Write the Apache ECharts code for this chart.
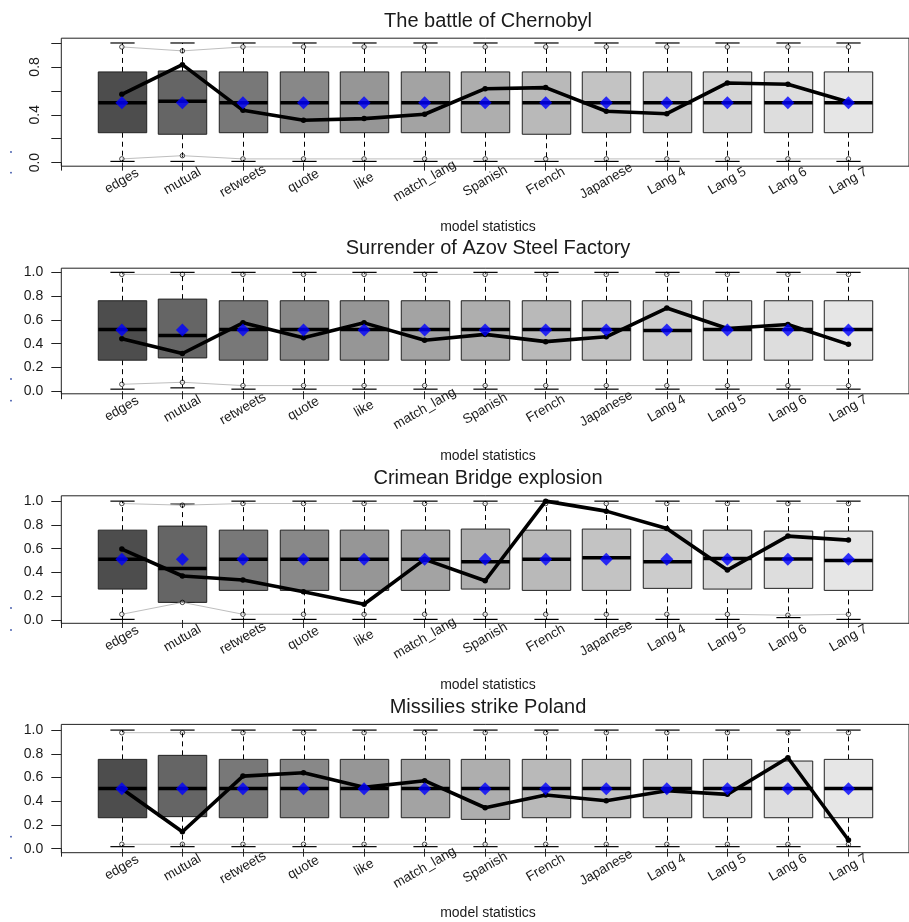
<!DOCTYPE html>
<html>
<head>
<meta charset="utf-8">
<title>Goodness of fit: model statistics</title>
<script src="https://cdn.jsdelivr.net/npm/echarts@6/dist/echarts.min.js"></script>
<style>
  html, body { margin: 0; padding: 0; background: #fff; }
  #chart { width: 909px; height: 922px; }
</style>
</head>
<body>
<div id="chart"></div>
<script>
// Model statistics shown on every panel
const categories = ['edges', 'mutual', 'retweets', 'quote', 'like', 'match_lang',
  'Spanish', 'French', 'Japanese', 'Lang 4', 'Lang 5', 'Lang 6', 'Lang 7'];
const yTicks = [0, 0.2, 0.4, 0.6, 0.8, 1.0];

// The battle of Chernobyl
const chernobylLow = [0.01, 0.01, 0.01, 0.01, 0.01, 0.01, 0.01, 0.01, 0.01, 0.01, 0.01, 0.01, 0.01];
const chernobylQ1 = [0.25, 0.237, 0.25, 0.25, 0.25, 0.25, 0.25, 0.237, 0.25, 0.25, 0.25, 0.25, 0.25];
const chernobylMedian = [0.5, 0.513, 0.5, 0.5, 0.5, 0.5, 0.5, 0.5, 0.5, 0.5, 0.5, 0.5, 0.5];
const chernobylQ3 = [0.758, 0.766, 0.758, 0.758, 0.758, 0.758, 0.758, 0.758, 0.758, 0.758, 0.758, 0.758, 0.758];
const chernobylHigh = [1, 1, 1, 1, 1, 1, 1, 1, 1, 1, 1, 1, 1];
const chernobylBoundLow = [0.031, 0.058, 0.031, 0.031, 0.031, 0.031, 0.031, 0.031, 0.031, 0.031, 0.031, 0.031, 0.031];
const chernobylBoundHigh = [0.967, 0.934, 0.967, 0.967, 0.967, 0.967, 0.967, 0.967, 0.967, 0.967, 0.967, 0.967, 0.967];
const chernobylObserved = [0.571, 0.819, 0.437, 0.354, 0.368, 0.404, 0.618, 0.627, 0.429, 0.409, 0.666, 0.655, 0.507];
const chernobylMean = [0.5, 0.5, 0.5, 0.5, 0.5, 0.5, 0.5, 0.5, 0.5, 0.5, 0.5, 0.5, 0.5];

// Surrender of Azov Steel Factory
const azovLow = [0.017, 0.028, 0.017, 0.017, 0.017, 0.017, 0.017, 0.017, 0.017, 0.017, 0.017, 0.017, 0.017];
const azovQ1 = [0.261, 0.28, 0.261, 0.261, 0.261, 0.261, 0.261, 0.261, 0.261, 0.261, 0.261, 0.261, 0.261];
const azovMedian = [0.519, 0.469, 0.519, 0.519, 0.519, 0.519, 0.519, 0.519, 0.519, 0.511, 0.519, 0.519, 0.519];
const azovQ3 = [0.761, 0.775, 0.761, 0.761, 0.761, 0.761, 0.761, 0.761, 0.761, 0.761, 0.761, 0.761, 0.761];
const azovHigh = [1, 1, 1, 1, 1, 1, 1, 1, 1, 1, 1, 1, 1];
const azovBoundLow = [0.058, 0.075, 0.047, 0.047, 0.047, 0.047, 0.047, 0.047, 0.047, 0.047, 0.047, 0.047, 0.047];
const azovBoundHigh = [0.983, 0.983, 0.983, 0.983, 0.983, 0.983, 0.983, 0.983, 0.983, 0.983, 0.983, 0.983, 0.983];
const azovObserved = [0.442, 0.317, 0.575, 0.45, 0.575, 0.428, 0.478, 0.417, 0.458, 0.70, 0.528, 0.561, 0.394];
const azovMean = [0.514, 0.514, 0.514, 0.514, 0.514, 0.514, 0.514, 0.514, 0.514, 0.514, 0.514, 0.514, 0.514];

// Crimean Bridge explosion
const crimeaLow = [0.005, 0.148, 0.005, 0.005, 0.005, 0.005, 0.005, 0.005, 0.005, 0.005, 0.005, 0.02, 0.005];
const crimeaQ1 = [0.26, 0.148, 0.249, 0.249, 0.249, 0.249, 0.26, 0.249, 0.249, 0.266, 0.26, 0.266, 0.249];
const crimeaMedian = [0.51, 0.434, 0.51, 0.51, 0.51, 0.51, 0.49, 0.51, 0.524, 0.49, 0.518, 0.513, 0.5];
const crimeaQ3 = [0.756, 0.79, 0.756, 0.756, 0.756, 0.756, 0.765, 0.756, 0.765, 0.756, 0.756, 0.748, 0.748];
const crimeaHigh = [1, 0.975, 1, 1, 1, 1, 1, 1, 1, 1, 1, 1, 1];
const crimeaBoundLow = [0.048, 0.148, 0.048, 0.048, 0.048, 0.048, 0.048, 0.048, 0.048, 0.048, 0.048, 0.04, 0.048];
const crimeaBoundHigh = [0.98, 0.966, 0.98, 0.98, 0.98, 0.98, 0.98, 0.98, 0.98, 0.98, 0.98, 0.98, 0.98];
const crimeaObserved = [0.597, 0.37, 0.336, 0.238, 0.132, 0.51, 0.33, 1.0, 0.916, 0.77, 0.42, 0.706, 0.672];
const crimeaMean = [0.51, 0.51, 0.51, 0.51, 0.51, 0.51, 0.51, 0.51, 0.51, 0.51, 0.51, 0.51, 0.51];

// Missilies strike Poland
const polandLow = [0.017, 0.017, 0.017, 0.017, 0.017, 0.017, 0.017, 0.017, 0.017, 0.017, 0.017, 0.017, 0.017];
const polandQ1 = [0.261, 0.27, 0.261, 0.261, 0.261, 0.261, 0.247, 0.261, 0.261, 0.261, 0.261, 0.261, 0.261];
const polandMedian = [0.508, 0.508, 0.508, 0.508, 0.508, 0.508, 0.508, 0.508, 0.508, 0.508, 0.508, 0.508, 0.508];
const polandQ3 = [0.753, 0.787, 0.753, 0.753, 0.753, 0.753, 0.753, 0.753, 0.753, 0.753, 0.753, 0.739, 0.753];
const polandHigh = [1, 1, 1, 1, 1, 1, 1, 1, 1, 1, 1, 1, 1];
const polandBoundLow = [0.037, 0.037, 0.037, 0.037, 0.037, 0.037, 0.037, 0.037, 0.037, 0.037, 0.037, 0.037, 0.037];
const polandBoundHigh = [0.978, 0.978, 0.978, 0.978, 0.978, 0.978, 0.978, 0.978, 0.978, 0.978, 0.978, 0.978, 0.978];
const polandObserved = [0.506, 0.143, 0.612, 0.64, 0.517, 0.573, 0.345, 0.452, 0.404, 0.489, 0.458, 0.767, 0.073];
const polandMean = [0.506, 0.506, 0.506, 0.506, 0.506, 0.506, 0.506, 0.506, 0.506, 0.506, 0.506, 0.506, 0.506];

const panels = [
  { title: 'The battle of Chernobyl', low: chernobylLow, q1: chernobylQ1, median: chernobylMedian, q3: chernobylQ3,
    high: chernobylHigh, boundLow: chernobylBoundLow, boundHigh: chernobylBoundHigh, observed: chernobylObserved, mean: chernobylMean },
  { title: 'Surrender of Azov Steel Factory', low: azovLow, q1: azovQ1, median: azovMedian, q3: azovQ3,
    high: azovHigh, boundLow: azovBoundLow, boundHigh: azovBoundHigh, observed: azovObserved, mean: azovMean },
  { title: 'Crimean Bridge explosion', low: crimeaLow, q1: crimeaQ1, median: crimeaMedian, q3: crimeaQ3,
    high: crimeaHigh, boundLow: crimeaBoundLow, boundHigh: crimeaBoundHigh, observed: crimeaObserved, mean: crimeaMean },
  { title: 'Missilies strike Poland', low: polandLow, q1: polandQ1, median: polandMedian, q3: polandQ3,
    high: polandHigh, boundLow: polandBoundLow, boundHigh: polandBoundHigh, observed: polandObserved, mean: polandMean }
];

// Layout of the four stacked plot regions
const plotLeft = 61.3;
const plotWidth = 854;
const gridTops = [38.2, 268.2, 495.8, 724.4];
const gridHeights = [128, 125.6, 127.5, 128.3];
const yMins = [-0.03, -0.022, -0.028, -0.034];
const yMaxs = [1.04, 1.035, 1.045, 1.048];
const titleYs = [21, 248.5, 478, 707.5];
const xNameYs = [227, 456, 685, 913];

// Box fills: grey ramp from dark to light
const boxFills = ['#4d4d4d', '#656565', '#787878', '#888888', '#969696', '#a3a3a3', '#aeaeae',
  '#b9b9b9', '#c3c3c3', '#cccccc', '#d5d5d5', '#dddddd', '#e6e6e6'];

const FONT = '"Liberation Sans", Arial, Helvetica, sans-serif';
const TEXT = '#1a1a1a';

function renderBox(params, api) {
  const x = api.value(0);
  const lo = api.value(1), q1 = api.value(2), med = api.value(3), q3 = api.value(4), hi = api.value(5);
  const unit = api.size([1, 0])[0];
  const halfBox = 0.4 * unit, halfCap = 0.2 * unit;
  const pLo = api.coord([x, lo]), pQ1 = api.coord([x, q1]), pMed = api.coord([x, med]);
  const pQ3 = api.coord([x, q3]), pHi = api.coord([x, hi]);
  const cx = Math.round(pMed[0]) + 0.5;
  const dash = { stroke: '#000', lineWidth: 1, lineDash: [5, 4] };
  const solid = { stroke: '#000', lineWidth: 1.2 };
  return {
    type: 'group',
    children: [
      { type: 'line', shape: { x1: cx, y1: pQ3[1], x2: cx, y2: pHi[1] }, style: dash },
      { type: 'line', shape: { x1: cx, y1: pQ1[1], x2: cx, y2: pLo[1] }, style: dash },
      { type: 'line', shape: { x1: cx - halfCap, y1: pHi[1], x2: cx + halfCap, y2: pHi[1] }, style: solid },
      { type: 'line', shape: { x1: cx - halfCap, y1: pLo[1], x2: cx + halfCap, y2: pLo[1] }, style: solid },
      { type: 'rect', shape: { x: cx - halfBox, y: pQ3[1], width: 2 * halfBox, height: pQ1[1] - pQ3[1] },
        style: { fill: boxFills[params.dataIndex], stroke: '#222', lineWidth: 1 } },
      { type: 'line', shape: { x1: cx - halfBox, y1: pMed[1], x2: cx + halfBox, y2: pMed[1] },
        style: { stroke: '#000', lineWidth: 3.5 } }
    ]
  };
}

const grid = [], xAxis = [], yAxis = [], series = [], graphic = [];
const xIdx = categories.map((c, i) => i + 1);

panels.forEach((p, k) => {
  grid.push({
    left: plotLeft, top: gridTops[k], width: plotWidth, height: gridHeights[k],
    show: true, borderColor: '#222', borderWidth: 1, backgroundColor: 'transparent'
  });
  xAxis.push({
    type: 'value', gridIndex: k, min: 0, max: 14,
    axisLine: { show: false },
    splitLine: { show: false },
    axisTick: { show: true, length: 8, lineStyle: { color: '#222' },
      customValues: [0].concat(xIdx) },
    axisLabel: {
      customValues: xIdx,
      formatter: v => categories[Math.round(v) - 1] || '',
      rotate: 30, align: 'center', verticalAlign: 'middle', margin: 15,
      fontFamily: FONT, fontSize: 13.5, color: TEXT
    }
  });
  yAxis.push({
    type: 'value', gridIndex: k, min: yMins[k], max: yMaxs[k],
    axisLine: { show: false },
    splitLine: { show: false },
    axisTick: { show: true, length: 10, lineStyle: { color: '#222' }, customValues: yTicks },
    axisLabel: k === 0 ? {
      customValues: [0, 0.4, 0.8],
      formatter: v => v.toFixed(1),
      rotate: 90, align: 'center', verticalAlign: 'bottom', margin: 19,
      fontFamily: FONT, fontSize: 14, color: TEXT
    } : {
      customValues: yTicks,
      formatter: v => v.toFixed(1),
      margin: 18,
      fontFamily: FONT, fontSize: 14, color: TEXT
    }
  });

  const boxData = xIdx.map((x, i) => [x, p.low[i], p.q1[i], p.median[i], p.q3[i], p.high[i]]);
  series.push({
    type: 'custom', xAxisIndex: k, yAxisIndex: k, z: 2,
    renderItem: renderBox, data: boxData, silent: true
  });
  series.push({
    type: 'line', xAxisIndex: k, yAxisIndex: k, z: 3, showSymbol: false, silent: true,
    lineStyle: { color: '#bebebe', width: 1 },
    data: xIdx.map((x, i) => [x, p.boundHigh[i]])
  });
  series.push({
    type: 'line', xAxisIndex: k, yAxisIndex: k, z: 3, showSymbol: false, silent: true,
    lineStyle: { color: '#bebebe', width: 1 },
    data: xIdx.map((x, i) => [x, p.boundLow[i]])
  });
  series.push({
    type: 'scatter', xAxisIndex: k, yAxisIndex: k, z: 4, silent: true,
    symbol: 'circle', symbolSize: 4.5,
    itemStyle: { color: 'rgba(0,0,0,0)', borderColor: '#000', borderWidth: 0.9 },
    data: xIdx.map((x, i) => [x, p.boundHigh[i]]).concat(xIdx.map((x, i) => [x, p.boundLow[i]]))
  });
  series.push({
    type: 'line', xAxisIndex: k, yAxisIndex: k, z: 5, silent: true,
    symbol: 'circle', symbolSize: 5.5, showSymbol: true,
    itemStyle: { color: '#000' },
    lineStyle: { color: '#000', width: 3.6 },
    data: xIdx.map((x, i) => [x, p.observed[i]])
  });
  series.push({
    type: 'scatter', xAxisIndex: k, yAxisIndex: k, z: 6, silent: true,
    symbol: 'diamond', symbolSize: 13,
    itemStyle: { color: '#0000ff' },
    data: xIdx.map((x, i) => [x, p.mean[i]])
  });

  graphic.push({
    type: 'text', x: 488, y: titleYs[k], silent: true,
    style: { text: p.title, font: '20px ' + FONT, fill: TEXT,
      align: 'center', verticalAlign: 'middle', textAlign: 'center', textVerticalAlign: 'middle' }
  });
  graphic.push({
    type: 'text', x: 488, y: xNameYs[k], silent: true,
    style: { text: 'model statistics', font: '14px ' + FONT, fill: TEXT,
      align: 'center', verticalAlign: 'middle', textAlign: 'center', textVerticalAlign: 'middle' }
  });
});

// Small marks left of each panel's vertical axis
const dotYs = [[152, 172.7], [379, 400.7], [608, 630], [836.7, 858]];
dotYs.forEach(pair => pair.forEach(y => {
  graphic.push({ type: 'circle', silent: true, shape: { cx: 11, cy: y, r: 0.9 }, style: { fill: '#3a52a8' } });
}));

const chart = echarts.init(document.getElementById('chart'), null, { renderer: 'canvas' });
chart.setOption({
  animation: false,
  backgroundColor: '#ffffff',
  grid, xAxis, yAxis, series, graphic
});
</script>
</body>
</html>
